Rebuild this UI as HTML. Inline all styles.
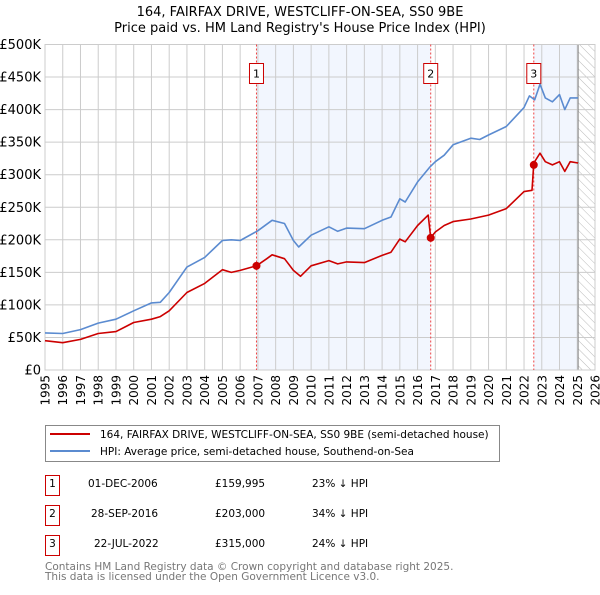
<!DOCTYPE html>
<html><head><meta charset="utf-8"><style>
body{margin:0;background:#fff;font-family:"Liberation Sans","DejaVu Sans",sans-serif;}
svg text{font-family:"DejaVu Sans","Liberation Sans",sans-serif;}
</style></head><body>
<svg id="c" width="600" height="590" xmlns="http://www.w3.org/2000/svg">
<defs><pattern id="hatch" width="6" height="6" patternUnits="userSpaceOnUse" patternTransform="rotate(-45)"><line x1="0" y1="0" x2="0" y2="6" stroke="#bbb" stroke-width="1"/></pattern></defs>
<text x="300" y="16" text-anchor="middle" font-size="13" fill="#000">164, FAIRFAX DRIVE, WESTCLIFF-ON-SEA, SS0 9BE</text>
<text x="300" y="32" text-anchor="middle" font-size="13" fill="#000">Price paid vs. HM Land Registry's House Price Index (HPI)</text>
<g id="plot"></g>
<rect x="45.5" y="425.5" width="454" height="36" fill="#fff" stroke="#888"/>
<line x1="50" y1="434" x2="90" y2="434" stroke="#cc0000" stroke-width="2"/>
<text x="100" y="438" font-size="10.5">164, FAIRFAX DRIVE, WESTCLIFF-ON-SEA, SS0 9BE (semi-detached house)</text>
<line x1="50" y1="451" x2="90" y2="451" stroke="#5b8bd0" stroke-width="2"/>
<text x="100" y="455" font-size="10.5">HPI: Average price, semi-detached house, Southend-on-Sea</text>
<g font-size="10.5">
<rect x="45.5" y="475.5" width="14" height="20" fill="#fff" stroke="#cc0000"/><text x="52.5" y="487" text-anchor="middle">1</text>
<text x="88" y="487">01-DEC-2006</text><text x="215" y="487">£159,995</text><text x="312" y="487">23% ↓ HPI</text>
<rect x="45.5" y="505.5" width="14" height="20" fill="#fff" stroke="#cc0000"/><text x="52.5" y="517" text-anchor="middle">2</text>
<text x="91" y="517">28-SEP-2016</text><text x="215" y="517">£203,000</text><text x="312" y="517">34% ↓ HPI</text>
<rect x="45.5" y="535.5" width="14" height="20" fill="#fff" stroke="#cc0000"/><text x="52.5" y="547" text-anchor="middle">3</text>
<text x="94" y="547">22-JUL-2022</text><text x="215" y="547">£315,000</text><text x="312" y="547">24% ↓ HPI</text>
</g>
<text x="45" y="570" font-size="10.5" fill="#777">Contains HM Land Registry data © Crown copyright and database right 2025.</text>
<text x="45" y="580" font-size="10.5" fill="#777">This data is licensed under the Open Government Licence v3.0.</text>
</svg>
<script>
const hpiYears=[1995,1996,1997,1998,1999,2000,2001,2001.5,2002,2003,2004,2005,2005.5,2006,2007,2007.8,2008.5,2009,2009.3,2010,2011,2011.5,2012,2013,2014,2014.5,2015,2015.3,2016,2016.7,2017,2017.5,2018,2019,2019.5,2020,2021,2022,2022.3,2022.6,2022.9,2023.2,2023.6,2024,2024.3,2024.6,2025.05];
const hpiValues=[57,56,62,72,78,91,103,104,119,158,173,199,200,199,214,230,225,199,189,207,220,213,218,217,230,235,263,258,289,312,320,330,346,356,354,361,374,403,421,415,439,418,412,423,400,418,418];
const propYears=[1995,1996,1997,1998,1999,2000,2001,2001.5,2002,2003,2004,2005,2005.5,2006,2006.92,2007.5,2007.8,2008.5,2009,2009.4,2010,2011,2011.5,2012,2013,2014,2014.5,2015,2015.3,2016,2016.6,2016.74,2017,2017.5,2018,2019,2020,2021,2022,2022.45,2022.55,2022.9,2023.2,2023.6,2024,2024.3,2024.6,2025.05];
const propValues=[45,42,47,56,59,73,78,82,91,119,133,154,150,153,160,171,177,171,153,144,160,168,163,166,165,176,181,201,197,222,238,203,212,222,228,232,238,248,274,276,318,333,320,315,320,305,320,318];
const saleLabels=["1","2","3"];
const saleYears=[2006.92,2016.74,2022.55];
const saleValues=[160,203,315];
const yTicks=[0,50,100,150,200,250,300,350,400,450,500];
const yTickLabels=["£0","£50K","£100K","£150K","£200K","£250K","£300K","£350K","£400K","£450K","£500K"];
const xTicks=[1995,1996,1997,1998,1999,2000,2001,2002,2003,2004,2005,2006,2007,2008,2009,2010,2011,2012,2013,2014,2015,2016,2017,2018,2019,2020,2021,2022,2023,2024,2025,2026];
const dataEnd=2025.05;

const X0=45,X1=595,Y0=370,Y1=44.5,xmin=1995,xmax=2026,ymax=500;
const xs=v=>X0+(v-xmin)/(xmax-xmin)*(X1-X0);
const ys=v=>Y0-v/ymax*(Y0-Y1);
const NS="http://www.w3.org/2000/svg";
const g=document.getElementById('plot');
function mk(t,a){const e=document.createElementNS(NS,t);for(const k in a)e.setAttribute(k,a[k]);g.appendChild(e);return e;}

let r=mk('rect',{x:xs(saleYears[0]),y:Y1,width:xs(saleYears[1])-xs(saleYears[0]),height:Y0-Y1,fill:'#eef3fd',opacity:0.75});


r=mk('rect',{x:xs(saleYears[2]),y:Y1,width:xs(dataEnd)-xs(saleYears[2]),height:Y0-Y1,fill:'#eef3fd',opacity:0.75});


r=mk('rect',{x:xs(dataEnd),y:Y1,width:X1-xs(dataEnd),height:Y0-Y1,fill:'url(#hatch)'});



yTicks.forEach((v,i)=>{
 const l=mk('line',{x1:X0,x2:X1,y1:ys(v),y2:ys(v),stroke:'#cccccc','stroke-width':1});
 
 
 const t=mk('text',{x:X0-4,y:ys(v)+4.5,'text-anchor':'end','font-size':13});
 t.textContent=yTickLabels[i];
 
 
});
xTicks.forEach(v=>{
 const l=mk('line',{x1:xs(v),x2:xs(v),y1:Y1,y2:Y0,stroke:'#cccccc','stroke-width':1});
 
 
 const t=mk('text',{x:0,y:0,'text-anchor':'end','font-size':12,transform:`translate(${xs(v)+4.5},${Y0+5}) rotate(-90)`});
 t.textContent=v;
 
 
});
let b=mk('line',{x1:xs(dataEnd),x2:xs(dataEnd),y1:Y1,y2:Y0,stroke:'#888','stroke-width':1});


b=mk('rect',{x:X0,y:Y1,width:X1-X0,height:Y0-Y1,fill:'none',stroke:'#cccccc'});



saleYears.forEach((v,i)=>{
 const l=mk('line',{x1:xs(v),x2:xs(v),y1:Y1,y2:Y0,stroke:'#ee4444','stroke-width':1,'stroke-dasharray':'2,2'});
 
 
 const bx=mk('rect',{x:xs(v)-7,y:63.5,width:14,height:20,fill:'#fff',stroke:'#cc0000'});
 
 
 const t=mk('text',{x:xs(v),y:77.5,'text-anchor':'middle','font-size':11});
 t.textContent=saleLabels[i];
 
 
});

function path(xa,va,col,name){
 const d=xa.map((x,i)=>(i?'L':'M')+xs(x).toFixed(1)+','+ys(va[i]).toFixed(1)).join('');
 const p=mk('path',{d:d,fill:'none',stroke:col,'stroke-width':1.6,'stroke-linejoin':'round'});
 
 
}
path(hpiYears,hpiValues,'#5b8bd0','hpi-line');
path(propYears,propValues,'#cc0000','property-line');
saleYears.forEach((v,i)=>{
 const c=mk('circle',{cx:xs(v),cy:ys(saleValues[i]),r:4,fill:'#cc0000'});
 
 
});
</script>
</body></html>
